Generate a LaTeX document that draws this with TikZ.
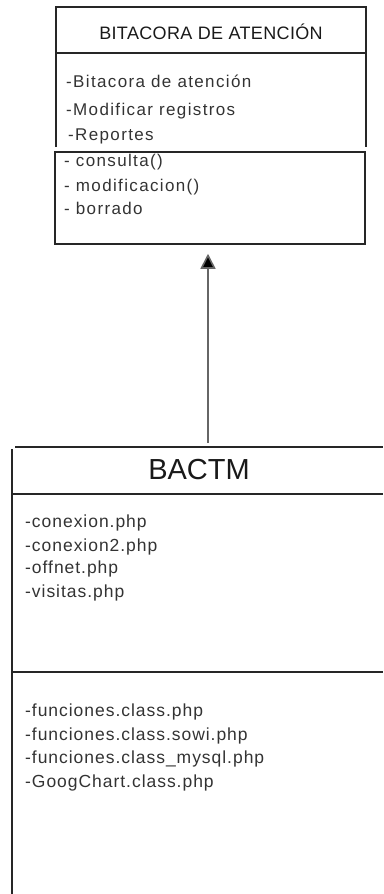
\documentclass[tikz,border=0pt]{standalone}
\usepackage{fontspec}
\setmainfont{Liberation Sans}
\newfontfamily\titlefont[LetterSpace=2]{Liberation Sans}
\newfontfamily\itemfont[LetterSpace=8]{Liberation Sans}
\newfontfamily\filefont[LetterSpace=5.5]{Liberation Sans}
\usetikzlibrary{arrows.meta}
\begin{document}
\begin{tikzpicture}[x=1pt,y=-1pt,
  edge/.style={draw=black!85,line width=1.5pt},
  txt/.style={anchor=base west,inner sep=0pt,text=black!80},
  topitem/.style={txt,font=\itemfont\fontsize{17}{17}\selectfont},
  fileitem/.style={txt,font=\filefont\fontsize{17.5}{17.5}\selectfont},
  titletxt/.style={anchor=base,inner sep=0pt,text=black!90}]
\useasboundingbox (0,0) rectangle (383,894);

% ---- BITACORA DE ATENCION class ----
\draw[edge] (56,147) -- (56,7) -- (366,7) -- (366,147);
\draw[edge] (56,53) -- (366,53);
\node[draw=black!85,line width=1.5pt,minimum width=310pt,minimum height=92pt,inner sep=0pt] (ops) at (210,198) {};
\node[titletxt,font=\titlefont\fontsize{18}{18}\selectfont] (bname) at (211,39) {BITACORA DE ATENCIÓN};
\node[topitem] (a1) at (66,87) {-Bitacora de atención};
\node[topitem] (a2) at (66,115) {-Modificar registros};
\node[topitem] (a3) at (68,140) {-Reportes};
\node[topitem] (m1) at (64,166) {- consulta()};
\node[topitem] (m2) at (64,191) {- modificacion()};
\node[topitem] (m3) at (64,214) {- borrado};

% ---- BACTM class (runs off the right and bottom edges) ----
\draw[edge] (12,449) -- (12,894);
\draw[edge] (15,447) -- (383,447);
\draw[edge] (12,494) -- (383,494);
\draw[edge] (12,672) -- (383,672);
\coordinate (bactm) at (208,447);
\node[titletxt,font=\fontsize{29}{29}\selectfont] (cname) at (199,479) {BACTM};
\node[fileitem] (f1) at (25,527) {-conexion.php};
\node[fileitem] (f2) at (25,551) {-conexion2.php};
\node[fileitem] (f3) at (25,573) {-offnet.php};
\node[fileitem] (f4) at (25,597) {-visitas.php};
\node[fileitem] (g1) at (25,716) {-funciones.class.php};
\node[fileitem] (g2) at (25,740) {-funciones.class.sowi.php};
\node[fileitem] (g3) at (25,763) {-funciones.class\_mysql.php};
\node[fileitem] (g4) at (25,787) {-GoogChart.class.php};

% ---- inheritance arrow ----
\draw[draw=black!60,line width=1.6pt,shorten <=4pt,shorten >=9pt,
  -{Triangle[length=15pt,width=15pt,fill=black]}]
  (bactm) -- (bactm |- ops.south);
\end{tikzpicture}
\end{document}
